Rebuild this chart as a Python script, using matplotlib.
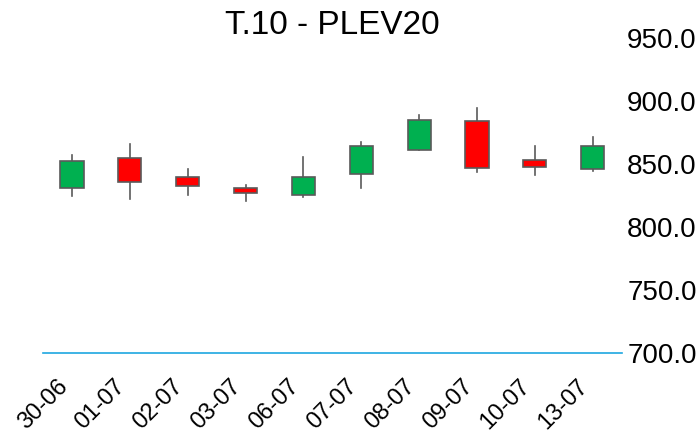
import matplotlib
matplotlib.use("Agg")

import matplotlib.pyplot as plt
from matplotlib.patches import Rectangle

dates = ["30-06", "01-07", "02-07", "03-07", "06-07", "07-07", "08-07", "09-07", "10-07", "13-07"]
opens = [831.0, 854.5, 839.3, 831.1, 825.0, 842.0, 861.1, 883.7, 853.1, 845.7]
closes = [852.0, 835.4, 832.4, 826.8, 839.3, 864.3, 885.0, 847.0, 847.5, 864.3]
highs = [857.0, 865.4, 845.7, 833.5, 855.7, 867.0, 888.7, 894.3, 863.9, 870.9]
lows = [824.2, 821.8, 825.5, 820.2, 824.0, 831.1, 861.1, 843.8, 840.9, 844.6]

UP = "#00b050"
DOWN = "#ff0000"
EDGE = "#5a5a5a"

plt.rcParams["font.family"] = ["Liberation Sans", "DejaVu Sans"]

fig = plt.figure(figsize=(6.98, 4.33), dpi=100)
ax = fig.add_axes([0.0616, 0.185, 0.829, 0.728])

w = 0.4
for i, (o, c, h, l) in enumerate(zip(opens, closes, highs, lows)):
    ax.plot([i, i], [l, h], color=EDGE, linewidth=1.2, zorder=1)
    lo, hi = min(o, c), max(o, c)
    ax.add_patch(Rectangle((i - w / 2, lo), w, hi - lo,
                           facecolor=UP if c >= o else DOWN,
                           edgecolor=EDGE, linewidth=1.2, zorder=2))

ax.set_xlim(-0.5, len(dates) - 0.5)
ax.set_ylim(700, 950)
ax.set_yticks([700, 750, 800, 850, 900, 950])
ax.set_yticklabels([f"{v:.1f}" for v in [700, 750, 800, 850, 900, 950]])
ax.yaxis.tick_right()
ax.tick_params(axis="y", length=0, pad=4, labelsize=20)
ax.set_xticks(range(len(dates)))
ax.set_xticklabels(dates, rotation=45, ha="right", fontsize=17)
ax.tick_params(axis="x", length=0, pad=16)

for s in ["top", "left", "right"]:
    ax.spines[s].set_visible(False)
ax.spines["bottom"].set_color("#1ea7e0")
ax.spines["bottom"].set_linewidth(1.2)

ax.text(0.5, 1.0 + 12 / 315, "T.10 - PLEV20", transform=ax.transAxes,
        ha="center", va="center", fontsize=24)

fig.savefig("out.png", dpi=100)
